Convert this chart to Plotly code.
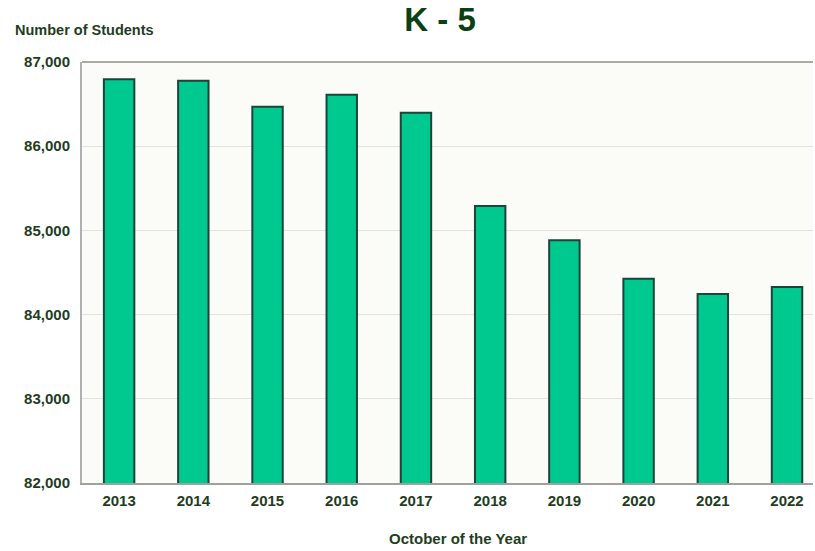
import plotly.graph_objects as go

years = ["2013", "2014", "2015", "2016", "2017", "2018", "2019", "2020", "2021", "2022"]
students = [86795, 86778, 86469, 86612, 86398, 85290, 84882, 84427, 84245, 84328]
y_ticks = [82000, 83000, 84000, 85000, 86000, 87000]
y_tick_labels = ["82,000", "83,000", "84,000", "85,000", "86,000", "87,000"]

text_color = "#1f3d1f"

fig = go.Figure()
fig.add_trace(go.Bar(
    x=years, y=students,
    marker=dict(color="#00c98f", line=dict(color="#1c4438", width=2)),
    width=0.41,
))

fig.update_layout(
    width=815, height=551,
    margin=dict(l=82, r=2, t=62, b=68),
    paper_bgcolor="white",
    plot_bgcolor="#fbfbf7",
    showlegend=False,
    font=dict(family="Arial, Liberation Sans, sans-serif", color=text_color),
    title=dict(text="<b>K - 5</b>", x=0.54, xanchor="center", y=0.964, yanchor="middle",
               font=dict(size=33, color="#0d3f12")),
    annotations=[
        dict(text="<b>Number of Students</b>", xref="paper", yref="paper",
             x=-0.0944, y=1.076, xanchor="left", yanchor="middle", showarrow=False,
             font=dict(size=14.5, color=text_color)),
        dict(text="<b>October of the Year</b>", xref="paper", yref="paper",
             x=0.514, y=-0.131, xanchor="center", yanchor="middle", showarrow=False,
             font=dict(size=15, color=text_color)),
    ],
)
fig.update_xaxes(
    type="category", range=[-0.5, 9.35],
    showline=True, linecolor="#a0a0a0", linewidth=2,
    ticks="outside", ticklen=3, tickcolor="rgba(0,0,0,0)",
    tickfont=dict(size=15, color=text_color),
    tickprefix="<b>", ticksuffix="</b>",
    showgrid=False, mirror=False,
)
fig.update_yaxes(
    range=[82000, 87000],
    tickvals=y_ticks, ticktext=["<b>" + t + "</b>" for t in y_tick_labels],
    tickfont=dict(size=15, color=text_color),
    showgrid=True, gridcolor="#e3e3dc", gridwidth=1,
    showline=True, linecolor="#b0b0b0", linewidth=2, mirror=False,
    ticks="outside", ticklen=7, tickcolor="rgba(0,0,0,0)",
    zeroline=False,
)
# top border of frame
fig.add_shape(type="line", xref="paper", yref="paper", x0=0, x1=1, y0=1, y1=1,
              line=dict(color="#a8aaa4", width=2))

fig.write_html("out.html",
               config={"displayModeBar": False},
               post_script="document.body.style.margin='0';document.body.style.overflow='hidden';")
